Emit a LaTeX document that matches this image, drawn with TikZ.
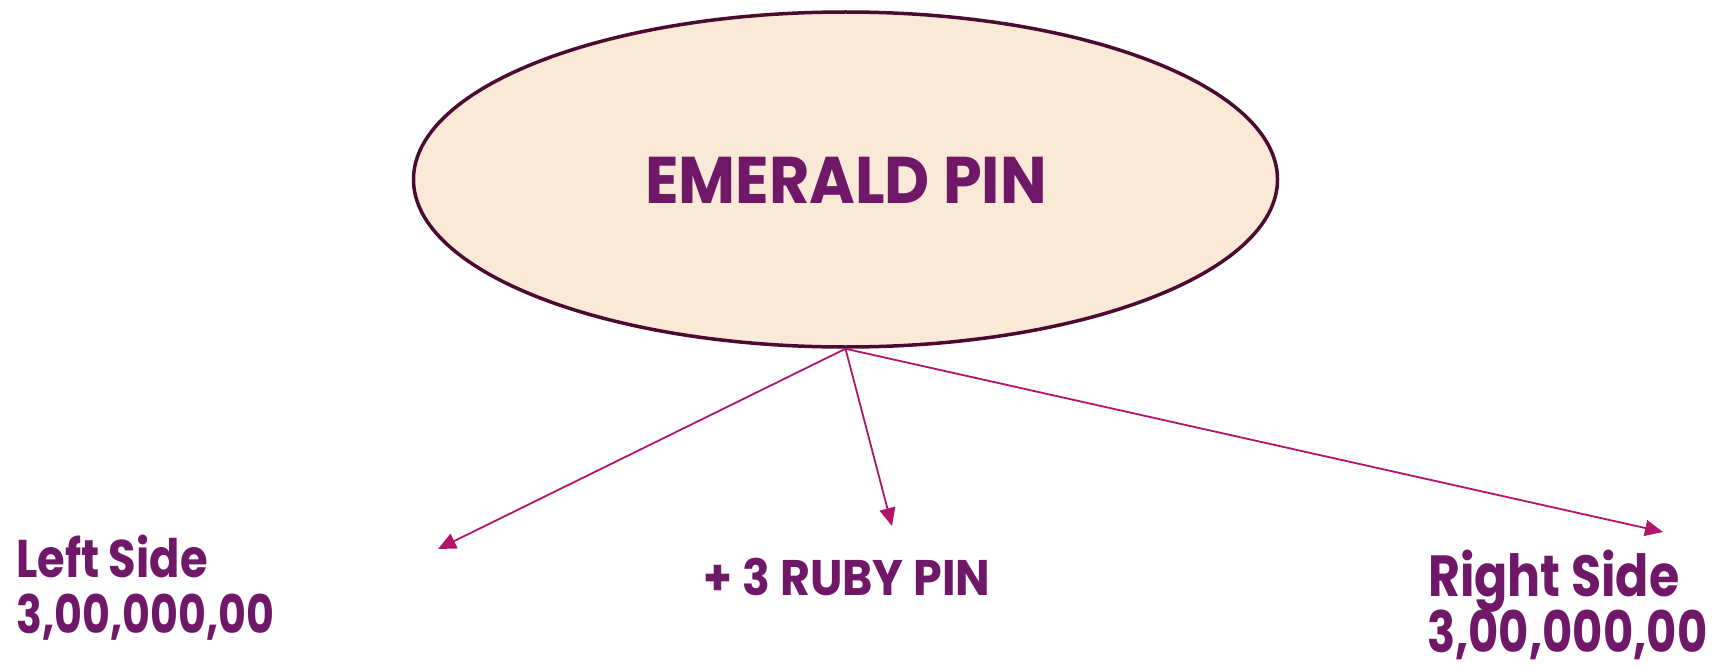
\documentclass[tikz,border=0pt]{standalone}
\usepackage{fontspec}
\setmainfont{Poppins}
\usetikzlibrary{shapes.geometric,arrows.meta}
\definecolor{txtpurple}{HTML}{701868}
\definecolor{ellfill}{HTML}{FBE9D8}
\definecolor{elldraw}{HTML}{4B0A2F}
\definecolor{arrowcol}{HTML}{B3146B}
\tikzset{
  mainell/.style={ellipse, draw=elldraw, fill=ellfill, line width=3.5pt, inner sep=0pt,
    minimum width=864pt, minimum height=335pt},
  lbl/.style={text=txtpurple, font=\bfseries, inner sep=0pt},
  conn/.style={draw=arrowcol, line width=1.8pt, -{Triangle[length=18pt,width=16pt]}}
}
\begin{document}
\begin{tikzpicture}[x=1pt,y=-1pt]
\useasboundingbox (0,0) rectangle (1718,666);
\node[mainell] (pin) at (845.5,179.5) {};
\node[lbl, font=\fontsize{66}{70}\selectfont\bfseries, anchor=base] (title) at (846,203) {\scalebox{0.94}[1]{EMERALD PIN}};
\coordinate (tl) at (438,549);
\coordinate (tm) at (892,526);
\coordinate (tr) at (1663,532);
\node[lbl, font=\fontsize{50}{54}\selectfont\bfseries, anchor=base] (ruby) at (847,595) {\scalebox{0.92}[1]{+ 3 RUBY PIN}};
\node[lbl, font=\fontsize{53}{56}\selectfont\bfseries, anchor=base west] (leftname) at (16,577) {\scalebox{0.845}[1]{Left Side}};
\node[lbl, font=\fontsize{53}{56}\selectfont\bfseries, anchor=base west] (leftval) at (16,633) {\scalebox{0.807}[1]{3,00,000,00}};
\node[lbl, font=\fontsize{58}{60}\selectfont\bfseries, anchor=base west] (rightname) at (1428,596) {\scalebox{0.845}[1]{Right Side}};
\node[lbl, font=\fontsize{57}{60}\selectfont\bfseries, anchor=base west, text depth=0pt] (rightval) at (1427,652) {\scalebox{0.815}[1]{3,00,000,00}};
\draw[conn] (pin.south) -- (tl);
\draw[conn] (pin.south) -- (tm);
\draw[conn] (pin.south) -- (tr);
\end{tikzpicture}
\end{document}
